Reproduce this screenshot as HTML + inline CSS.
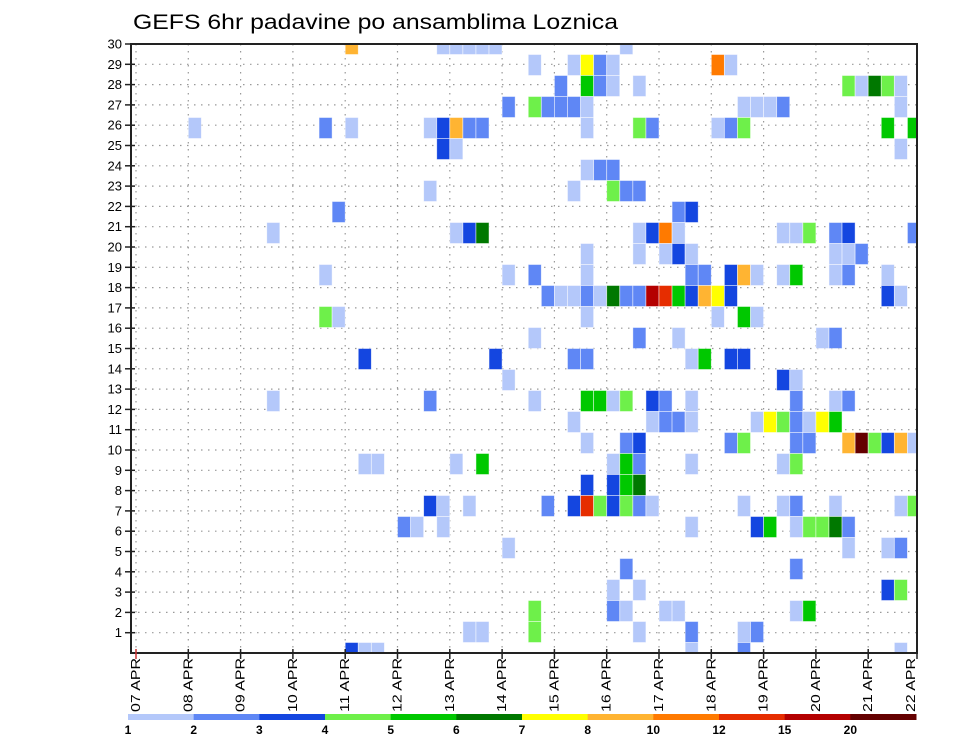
<!DOCTYPE html>
<html><head><meta charset="utf-8">
<style>
html,body{margin:0;padding:0;background:#fff;}
svg{display:block;font-family:"Liberation Sans",sans-serif;}
</style></head>
<body>
<svg id="chart" width="960" height="742" viewBox="0 0 960 742" xmlns="http://www.w3.org/2000/svg">
<rect x="0" y="0" width="960" height="742" fill="#fff"/>
<text x="133" y="29" font-size="21" fill="#000" textLength="485" lengthAdjust="spacingAndGlyphs">GEFS 6hr padavine po ansamblima Loznica</text>
<g id="grid"></g>
<g id="cells"></g>
<g id="axes"></g>
<g id="legend"></g>
</svg>
<script>
// ---- data ----
const dayLabels = ["07 APR","08 APR","09 APR","10 APR","11 APR","12 APR","13 APR","14 APR","15 APR","16 APR","17 APR","18 APR","19 APR","20 APR","21 APR","22 APR"];
const memberTicks = [1,2,3,4,5,6,7,8,9,10,11,12,13,14,15,16,17,18,19,20,21,22,23,24,25,26,27,28,29,30];
const levelLabels = ["1","2","3","4","5","6","7","8","10","12","15","20"];
const levelColors = ["#b4c8fa","#5f87f5","#1446e0","#6ef04a","#00c800","#007800","#ffff00","#ffb432","#ff7a00","#e62d00","#b40000","#640000"];
// cells: [memberRow (0=top), 6h step index, level (1..12)]
const cells = [
[0,16,8],[0,23,1],[0,24,1],[0,25,1],[0,26,1],[0,27,1],[0,37,1],
[1,30,1],[1,33,1],[1,34,7],[1,35,2],[1,36,1],[1,44,9],[1,45,1],
[2,32,2],[2,34,5],[2,35,2],[2,36,1],[2,38,1],[2,54,4],[2,55,1],[2,56,6],[2,57,4],[2,58,1],
[3,28,2],[3,30,4],[3,31,2],[3,32,2],[3,33,2],[3,34,1],[3,46,1],[3,47,1],[3,48,1],[3,49,2],[3,58,1],
[4,4,1],[4,14,2],[4,16,1],[4,22,1],[4,23,3],[4,24,8],[4,25,2],[4,26,2],[4,34,1],[4,38,4],[4,39,2],[4,44,1],[4,45,2],[4,46,4],[4,57,5],[4,59,5],
[5,23,3],[5,24,1],[5,58,1],
[6,34,1],[6,35,2],[6,36,2],
[7,22,1],[7,33,1],[7,36,4],[7,37,2],[7,38,2],
[8,15,2],[8,41,2],[8,42,3],
[9,10,1],[9,24,1],[9,25,3],[9,26,6],[9,38,1],[9,39,3],[9,40,9],[9,41,1],[9,49,1],[9,50,1],[9,51,4],[9,53,2],[9,54,3],[9,59,2],
[10,34,1],[10,38,1],[10,40,1],[10,41,3],[10,42,1],[10,53,1],[10,54,1],[10,55,2],
[11,14,1],[11,28,1],[11,30,2],[11,34,1],[11,42,2],[11,43,2],[11,45,3],[11,46,8],[11,47,1],[11,49,1],[11,50,5],[11,53,1],[11,54,2],[11,57,1],
[12,31,2],[12,32,1],[12,33,1],[12,34,2],[12,35,1],[12,36,6],[12,37,2],[12,38,2],[12,39,11],[12,40,10],[12,41,5],[12,42,3],[12,43,8],[12,44,7],[12,45,3],[12,57,3],[12,58,1],
[13,14,4],[13,15,1],[13,34,1],[13,44,1],[13,46,5],[13,47,1],
[14,30,1],[14,38,2],[14,41,1],[14,52,1],[14,53,2],
[15,17,3],[15,27,3],[15,33,2],[15,34,2],[15,42,1],[15,43,5],[15,45,3],[15,46,3],
[16,28,1],[16,49,3],[16,50,1],
[17,10,1],[17,22,2],[17,30,1],[17,34,5],[17,35,5],[17,36,1],[17,37,4],[17,39,3],[17,40,2],[17,42,1],[17,50,2],[17,53,1],[17,54,2],
[18,33,1],[18,39,1],[18,40,2],[18,41,2],[18,42,1],[18,47,1],[18,48,7],[18,49,4],[18,50,2],[18,51,1],[18,52,7],[18,53,5],
[19,34,1],[19,37,2],[19,38,3],[19,45,2],[19,46,4],[19,50,2],[19,51,2],[19,54,8],[19,55,12],[19,56,4],[19,57,3],[19,58,8],[19,59,1],
[20,17,1],[20,18,1],[20,24,1],[20,26,5],[20,36,1],[20,37,5],[20,38,2],[20,42,1],[20,49,1],[20,50,4],
[21,34,3],[21,36,3],[21,37,5],[21,38,6],
[22,22,3],[22,23,1],[22,25,1],[22,31,2],[22,33,3],[22,34,10],[22,35,4],[22,36,3],[22,37,4],[22,38,2],[22,39,1],[22,46,1],[22,49,1],[22,50,2],[22,53,1],[22,58,1],[22,59,4],
[23,20,2],[23,21,1],[23,23,1],[23,42,1],[23,47,3],[23,48,5],[23,50,1],[23,51,4],[23,52,4],[23,53,6],[23,54,2],
[24,28,1],[24,54,1],[24,57,1],[24,58,2],
[25,37,2],[25,50,2],
[26,36,1],[26,38,1],[26,57,3],[26,58,4],
[27,30,4],[27,36,2],[27,37,1],[27,40,1],[27,41,1],[27,50,1],[27,51,5],
[28,25,1],[28,26,1],[28,30,4],[28,38,1],[28,42,2],[28,46,1],[28,47,2],
[29,16,3],[29,17,1],[29,18,1],[29,42,1],[29,46,2],[29,58,1]
];

// ---- geometry ----
const NS = "http://www.w3.org/2000/svg";
const PL = 131, PR = 917, PT = 44, PB = 653;
const DAY0 = 136, DAYW = 52.3, STEPW = DAYW / 4;
const ROWH = (PB - PT) / 29;
function xStep(j) { return DAY0 + j * STEPW; }
function xDay(d) { return DAY0 + d * DAYW; }
function yMember(m) { return PT + m * ROWH; }           // cell centre
function yTick(v) { return PT + (30 - v) * ((PB - PT) / 30); }

function mk(tag, attrs, parent) {
  const e = document.createElementNS(NS, tag);
  for (const k in attrs) e.setAttribute(k, attrs[k]);
  parent.appendChild(e);
  return e;
}
const gGrid = document.getElementById("grid");
const gCells = document.getElementById("cells");
const gAxes = document.getElementById("axes");
const gLeg = document.getElementById("legend");

// clip
const defs = mk("defs", {}, document.getElementById("chart"));
const cp = mk("clipPath", {id: "plotclip"}, defs);
mk("rect", {x: PL, y: PT, width: PR - PL, height: PB - PT}, cp);
gCells.setAttribute("clip-path", "url(#plotclip)");

// grid lines
memberTicks.forEach(v => {
  const y = yTick(v);
  const l = mk("line", {x1: PL, x2: PR, y1: y, y2: y, stroke: "#999", "stroke-width": 1.2, "stroke-dasharray": "1.5,5.5"}, gGrid);
  
  
});
dayLabels.forEach((d, i) => {
  const x = xDay(i);
  if (x > PR) return;
  const l = mk("line", {x1: x, x2: x, y1: PT, y2: PB, stroke: "#999", "stroke-width": 1.2, "stroke-dasharray": "1.5,5.5"}, gGrid);
  
  
});

// cells
cells.forEach(c => {
  const m = c[0], j = c[1], lv = c[2];
  const r = mk("rect", {x: xStep(j), y: yMember(m) - ROWH / 2, width: STEPW, height: ROWH,
    fill: levelColors[lv - 1], stroke: "rgba(255,255,255,0.6)", "stroke-width": 0.8}, gCells);
  
  
});

// frame
const fr = mk("rect", {x: PL, y: PT, width: PR - PL, height: PB - PT, fill: "none", stroke: "#222", "stroke-width": 2}, gAxes);



// y ticks & labels
memberTicks.forEach(v => {
  const y = yTick(v);
  const t = mk("line", {x1: PL - 6, x2: PL + 4, y1: y, y2: y, stroke: "#222", "stroke-width": 1.5}, gAxes);
  
  
  const tx = mk("text", {x: 122, y: y + 4.5, "font-size": 13, "text-anchor": "end", fill: "#000"}, gAxes);
  tx.textContent = v;
  
  
});

// x ticks & labels
dayLabels.forEach((d, i) => {
  let x = xDay(i);
  const tk = mk("line", {x1: Math.min(x, PR), x2: Math.min(x, PR), y1: PB - 4, y2: PB + 6, stroke: i === 0 ? "#c33" : "#222", "stroke-width": 1.5}, gAxes);
  
  
  const lx = Math.min(x + 4, 915);
  const t = mk("text", {x: 0, y: 0, "font-size": 13, "text-anchor": "end", fill: "#000",
    transform: "translate(" + lx + ",658) rotate(-90)", textLength: 54, lengthAdjust: "spacingAndGlyphs"}, gAxes);
  t.textContent = d;
  
  
});

// legend colour bar
const LX0 = 128, LX1 = 916, LY = 714, LH = 6;
const segW = (LX1 - LX0) / levelColors.length;
levelColors.forEach((c, i) => {
  const r = mk("rect", {x: LX0 + i * segW, y: LY, width: segW + 0.5, height: LH, fill: c}, gLeg);
  
  
});
levelLabels.forEach((s, i) => {
  const t = mk("text", {x: LX0 + i * segW, y: 734, "font-size": 12, "font-weight": "bold", "text-anchor": "middle", fill: "#000"}, gLeg);
  t.textContent = s;
  
  
});
</script>
</body></html>
